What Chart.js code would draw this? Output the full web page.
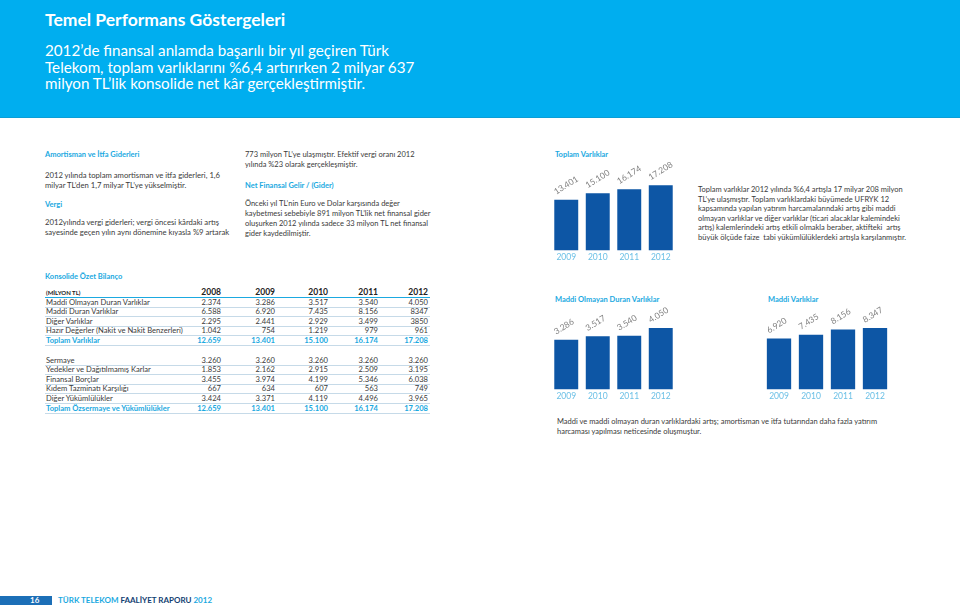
<!DOCTYPE html>
<html><head><meta charset="utf-8">
<script src="https://cdn.jsdelivr.net/npm/chart.js@4.4.1/dist/chart.umd.min.js"></script>
<style>
html,body{margin:0;padding:0;width:960px;height:607px;overflow:hidden;background:#fff;font-family:Lato,'Open Sans',sans-serif;color:#3a3a3a;}
.a{position:absolute;white-space:nowrap;}
#band{position:absolute;left:0;top:0;width:960px;height:117px;background:#00AEEF;border-bottom:1px solid #0A9ED6;}
#title{left:45px;top:10px;font-size:17.5px;font-weight:700;color:#fff;line-height:20px;}
#sub{left:45px;top:42px;font-size:15.2px;color:#fff;line-height:16.5px;}
.hd{font-size:7.5px;font-weight:700;color:#1BA9E1;line-height:10px;}
.tx{font-size:7.5px;line-height:10px;color:#3a3a3a;}
canvas{position:absolute;}
.row{position:absolute;left:45px;width:385px;font-size:7.6px;line-height:9px;height:9px;border-bottom:1px solid #C6DAE8;}
.row span{position:absolute;top:0;}
.row .n{text-align:right;}
.tot{color:#1BA9E1;font-weight:700;}
</style></head>
<body>
<div id="band"></div>
<div class="a" id="title">Temel Performans Göstergeleri</div>
<div class="a" id="sub">2012’de finansal anlamda başarılı bir yıl geçiren Türk<br>Telekom, toplam varlıklarını %6,4 artırırken 2 milyar 637<br>milyon TL’lik konsolide net kâr gerçekleştirmiştir.</div>

<div class="a hd" style="left:45px;top:150px;">Amortisman ve İtfa Giderleri</div>
<div class="a tx" style="left:45px;top:170px;font-size:7.7px;">2012 yılında toplam amortisman ve itfa giderleri, 1,6<br>milyar TL’den 1,7 milyar TL’ye yükselmiştir.</div>
<div class="a hd" style="left:45px;top:200px;">Vergi</div>
<div class="a tx" style="left:45px;top:217px;font-size:7.7px;">2012yılında vergi giderleri; vergi öncesi kârdaki artış<br>sayesinde geçen yılın aynı dönemine kıyasla %9 artarak</div>

<div class="a tx" style="left:245px;top:150px;">773 milyon TL’ye ulaşmıştır. Efektif vergi oranı 2012<br>yılında %23 olarak gerçekleşmiştir.</div>
<div class="a hd" style="left:245px;top:181px;">Net Finansal Gelir / (Gider)</div>
<div class="a tx" style="left:245px;top:199px;">Önceki yıl TL’nin Euro ve Dolar karşısında değer<br>kaybetmesi sebebiyle 891 milyon TL’lik net finansal gider<br>oluşurken 2012 yılında sadece 33 milyon TL net finansal<br>gider kaydedilmiştir.</div>

<div class="a hd" style="left:555px;top:150px;">Toplam Varlıklar</div>
<div class="a tx" style="left:698px;top:185px;line-height:9.6px;">Toplam varlıklar 2012 yılında %6,4 artışla 17 milyar 208 milyon<br>TL’ye ulaşmıştır. Toplam varlıklardaki büyümede UFRYK 12<br>kapsamında yapılan yatırım harcamalarındaki artış gibi maddi<br>olmayan varlıklar ve diğer varlıklar (ticari alacaklar kalemindeki<br>artış) kalemlerindeki artış etkili olmakla beraber, aktifteki &nbsp;artış<br>büyük ölçüde faize &nbsp;tabi yükümlülüklerdeki artışla karşılanmıştır.</div>

<div class="a hd" style="left:555px;top:295px;">Maddi Olmayan Duran Varlıklar</div>
<div class="a hd" style="left:768px;top:295px;">Maddi Varlıklar</div>
<div class="a tx" style="left:557px;top:417px;">Maddi ve maddi olmayan duran varlıklardaki artış; amortisman ve itfa tutarından daha fazla yatırım<br>harcaması yapılması neticesinde oluşmuştur.</div>

<div class="a hd" style="left:45px;top:272px;">Konsolide Özet Bilanço</div>
<div id="table"></div>

<canvas id="c1" width="150" height="120" style="left:540px;top:150px;"></canvas>
<canvas id="c2" width="150" height="120" style="left:540px;top:290px;"></canvas>
<canvas id="c3" width="150" height="120" style="left:750px;top:290px;"></canvas>

<div class="a" style="left:0;top:596px;width:52px;height:9px;background:#1C6FB7;"></div>
<div class="a" style="left:30px;top:595px;font-size:8px;font-weight:700;color:#fff;line-height:11px;">16</div>
<div class="a" style="left:58px;top:595px;font-size:8px;font-weight:700;line-height:11px;"><span style="color:#1BA9E1">TÜRK TELEKOM</span> <span style="color:#123E72">FAALİYET RAPORU</span> <span style="color:#1BA9E1">2012</span></div>

<script>
// ---- chart data ----
const years = ['2009', '2010', '2011', '2012'];
const toplamVarliklar = [13401, 15100, 16174, 17208];
const maddiOlmayanDuranVarliklar = [3286, 3517, 3540, 4050];
const maddiVarliklar = [6920, 7435, 8156, 8347];

// ---- table data ----
const tableYears = ['2008', '2009', '2010', '2011', '2012'];
const assetLabels = ['Maddi Olmayan Duran Varlıklar', 'Maddi Duran Varlıklar', 'Diğer Varlıklar', 'Hazır Değerler (Nakit ve Nakit Benzerleri)', 'Toplam Varlıklar'];
const assetValues = [
  ['2.374', '3.286', '3.517', '3.540', '4.050'],
  ['6.588', '6.920', '7.435', '8.156', '8347'],
  ['2.295', '2.441', '2.929', '3.499', '3850'],
  ['1.042', '754', '1.219', '979', '961'],
  ['12.659', '13.401', '15.100', '16.174', '17.208']
];
const liabLabels = ['Sermaye', 'Yedekler ve Dağıtılmamış Karlar', 'Finansal Borçlar', 'Kıdem Tazminatı Karşılığı', 'Diğer Yükümlülükler', 'Toplam Özsermaye ve Yükümlülükler'];
const liabValues = [
  ['3.260', '3.260', '3.260', '3.260', '3.260'],
  ['1.853', '2.162', '2.915', '2.509', '3.195'],
  ['3.455', '3.974', '4.199', '5.346', '6.038'],
  ['667', '634', '607', '563', '749'],
  ['3.424', '3.371', '4.119', '4.496', '3.965'],
  ['12.659', '13.401', '15.100', '16.174', '17.208']
];

// ---- table build ----
const colRight = [176, 230, 283, 333, 383]; // relative to row left (45)
const table = document.getElementById('table');
function addRow(top, label, vals, cls, hdr) {
  const r = document.createElement('div');
  r.className = 'row' + (cls ? ' ' + cls : '');
  r.style.top = top + 'px';
  if (hdr) r.style.borderBottom = '1px solid #1BA9E1';
  const l = document.createElement('span');
  l.style.left = '1px';
  l.textContent = label;
  if (hdr) { l.style.fontSize = '6px'; l.style.fontWeight = '700'; l.style.color = '#222'; }
  r.appendChild(l);
  vals.forEach((v, i) => {
    const s = document.createElement('span');
    s.className = 'n';
    s.style.right = (385 - colRight[i]) + 'px';
    s.textContent = v;
    if (hdr) { s.style.fontWeight = '700'; s.style.fontSize = '8.5px'; s.style.color = '#222'; }
    r.appendChild(s);
  });
  table.appendChild(r);
}
addRow(288, '(MİLYON TL)', tableYears, '', true);
assetLabels.forEach((lab, i) => addRow(297.6 + i * 9.6, lab, assetValues[i], i === assetLabels.length - 1 ? 'tot' : '', false));
liabLabels.forEach((lab, i) => addRow(355.5 + i * 9.6, lab, liabValues[i], i === liabLabels.length - 1 ? 'tot' : '', false));

// ---- charts ----
function fmt(n) { return String(n).replace(/\B(?=(\d{3})+(?!\d))/g, '.'); }
const valueLabels = {
  id: 'valueLabels',
  afterDatasetsDraw(chart) {
    const ctx = chart.ctx;
    const meta = chart.getDatasetMeta(0);
    const vals = chart.data.datasets[0].data;
    ctx.save();
    ctx.fillStyle = '#808080';
    ctx.font = '8.5px Lato';
    ctx.textAlign = 'left';
    ctx.textBaseline = 'alphabetic';
    meta.data.forEach((bar, i) => {
      ctx.save();
      ctx.translate(bar.x - 10, bar.y - 5);
      ctx.rotate(-32 * Math.PI / 180);
      ctx.fillText(fmt(vals[i]), 0, 0);
      ctx.restore();
    });
    ctx.restore();
  }
};
function barChart(id, labels, values, yMax, pad) {
  return new Chart(document.getElementById(id), {
    type: 'bar',
    data: { labels: labels, datasets: [{ data: values, backgroundColor: '#0D56A5', barPercentage: 0.76, categoryPercentage: 1 }] },
    options: {
      responsive: false, animation: false, devicePixelRatio: 1,
      layout: { padding: pad },
      plugins: { legend: { display: false }, tooltip: { enabled: false } },
      scales: {
        x: { grid: { display: false, drawTicks: false }, border: { display: false },
             ticks: { color: '#6CC0E6', font: { family: 'Lato', size: 8.5 }, padding: 2 } },
        y: { display: false, min: 0, max: yMax }
      }
    },
    plugins: [valueLabels]
  });
}
barChart('c1', years, toplamVarliklar, 26500, { left: 10.5, right: 13.5, top: 0, bottom: 5.2 });
barChart('c2', years, maddiOlmayanDuranVarliklar, 6560, { left: 10.5, right: 13.5, top: 0, bottom: 6.2 });
barChart('c3', years, maddiVarliklar, 13500, { left: 13, right: 9, top: 0, bottom: 6.2 });
</script>
</body></html>
